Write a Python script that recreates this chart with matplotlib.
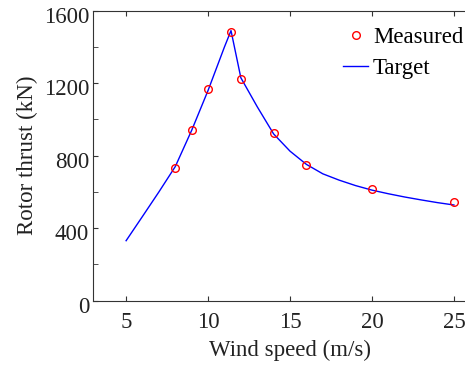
import numpy as np
import matplotlib.pyplot as plt
from matplotlib.ticker import MultipleLocator
from matplotlib.transforms import ScaledTranslation

# measured rotor thrust
meas_speed = [8, 9, 10, 11.4, 12, 14, 16, 20, 25]
meas_thrust = [730, 943, 1168, 1484, 1223, 923, 749, 614, 546]

# target curve
target_speed = [5, 6, 7, 8, 9, 10, 11, 11.4, 12, 13, 14, 15, 16, 17, 18,
                19, 20, 21, 22, 23, 24, 25]
target_thrust = [331, 465, 600, 740, 940, 1160, 1400, 1490, 1230, 1070, 920,
                 825, 752, 700, 665, 635, 610, 590, 572, 556, 541, 528]

plt.rcParams['font.family'] = ['Liberation Serif', 'DejaVu Serif']
plt.rcParams['font.size'] = 16.5

fig = plt.figure(figsize=(4.65, 3.65), dpi=100)
ax = fig.add_axes([0.2007, 0.1762, 0.846, 0.7945])

ax.plot(target_speed, target_thrust, color='blue', lw=1.0, label='Target')
ax.plot(meas_speed, meas_thrust, 'o', mfc='none', mec='red', ms=5.5,
        mew=1.0, label='Measured')

ax.set_xlim(3, 27)
ax.set_ylim(0, 1600)
ax.set_xticks([5, 10, 15, 20, 25])
ax.yaxis.set_major_locator(MultipleLocator(400))
ax.yaxis.set_minor_locator(MultipleLocator(200))
ax.tick_params(which='both', direction='in', length=3.5, top=True,
               right=False, colors='#333333', labelcolor='#222222')
ax.tick_params(axis='x', pad=8)
ax.tick_params(axis='y', pad=3)
for s in ax.spines.values():
    s.set_color('#333333')
    s.set_linewidth(0.8)

# y tick labels sit a little below their ticks
shift = ScaledTranslation(0, -3 / 72, fig.dpi_scale_trans)
for lab in ax.get_yticklabels():
    lab.set_transform(lab.get_transform() + shift)

ax.set_xlabel('Wind speed (m/s)', color='#222222', labelpad=5)
ax.set_ylabel('Rotor thrust (kN)', color='#222222', labelpad=4)

h, l = ax.get_legend_handles_labels()
leg = fig.legend(h[::-1], l[::-1], loc='upper left',
                 bbox_to_anchor=(0.718, 0.951), frameon=False,
                 borderaxespad=0, handlelength=1.1, handletextpad=0.2,
                 labelspacing=0.42)

fig.savefig('out.png', dpi=100)
